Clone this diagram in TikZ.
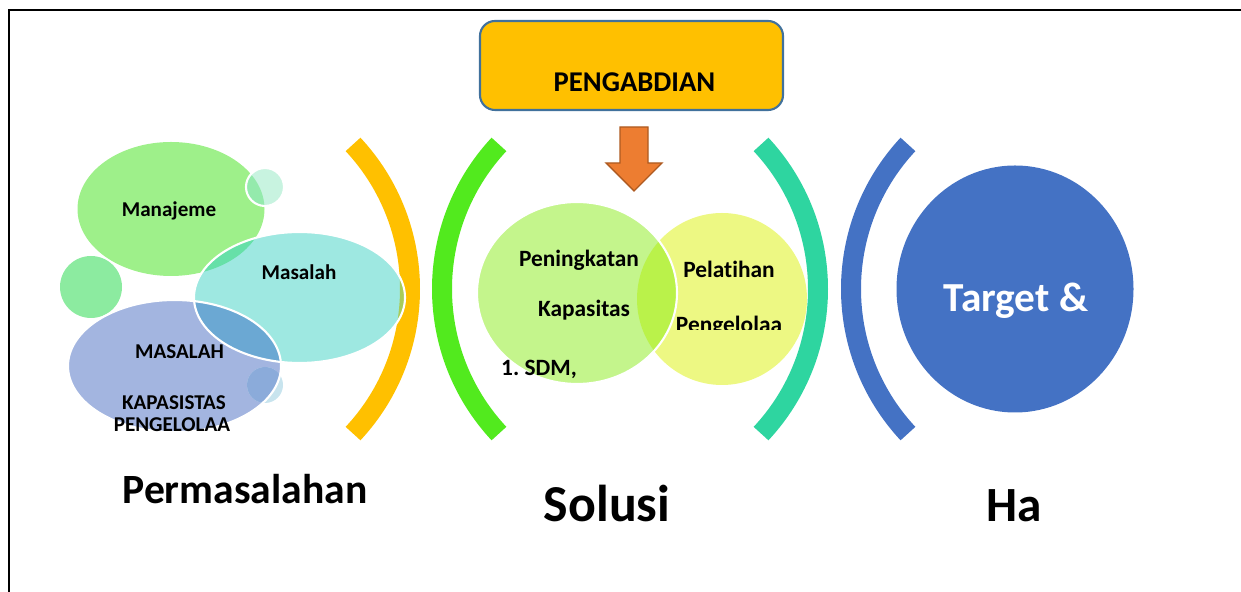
\documentclass[tikz,border=0pt]{standalone}
\usepackage{fontspec}
\setmainfont{Carlito}[Ligatures=NoCommon]
\usetikzlibrary{positioning}
\definecolor{arc-yellow}{HTML}{FFC000}
\definecolor{arc-green}{HTML}{52EA1E}
\definecolor{arc-teal}{HTML}{2ED5A0}
\definecolor{arc-blue}{HTML}{4472C4}
\definecolor{box-fill}{HTML}{FFC000}
\definecolor{box-border}{HTML}{41719C}
\definecolor{arrow-fill}{HTML}{ED7D31}
\definecolor{arrow-border}{HTML}{AE5A21}
\definecolor{cl-green}{HTML}{9EF08A}
\definecolor{cl-mint}{HTML}{C8F3E0}
\definecolor{cl-mint-ov}{HTML}{94EAAC}
\definecolor{cl-left}{HTML}{8CEBA0}
\definecolor{cl-teal}{HTML}{9EE8E1}
\definecolor{cl-teal-ov}{HTML}{66E0A8}
\definecolor{cl-olive}{HTML}{A8CC5A}
\definecolor{cl-blue}{HTML}{A3B5E0}
\definecolor{cl-blue-ov}{HTML}{6BA8D3}
\definecolor{cl-ice}{HTML}{C8E4EE}
\definecolor{cl-ice-ov}{HTML}{8BABDA}
\definecolor{venn-left}{HTML}{C4F58C}
\definecolor{venn-right}{HTML}{EDF883}
\definecolor{venn-ov}{HTML}{BAF24A}

\begin{document}
\begin{tikzpicture}[thick,
    txt/.style={font=\bfseries\fontsize{12}{14}\selectfont, inner sep=0pt, anchor=base},
    venntxt/.style={font=\bfseries\fontsize{13.3}{15}\selectfont, inner sep=0pt, anchor=base},
    bigtxt/.style={font=\bfseries\fontsize{28}{32}\selectfont, inner sep=0pt, anchor=base},
    bracket/.style={line width=0.4cm},
    rim/.style={draw=white, line width=1.2pt}]

    \useasboundingbox (0,0) rectangle (24.82,11.84);
    \draw[line width=1.2pt] (0.18,0) -- (0.18,11.64) -- (24.82,11.64);

    \node[draw=box-border, line width=1.2pt, fill=box-fill, rounded corners=0.3cm, minimum width=6.06cm, minimum height=1.78cm] (pengabdian) at (12.63,10.53) {};
    \node[font=\bfseries\fontsize{16.3}{18}\selectfont, inner sep=0pt, anchor=base] (pengabdiantxt) at (12.69,10.0) {PENGABDIAN};

    \draw[fill=arrow-fill, draw=arrow-border, line width=0.8pt] (12.4,9.3) -- (12.96,9.3) -- (12.96,8.58) -- (13.24,8.58) -- (12.68,8.02) -- (12.12,8.58) -- (12.4,8.58) -- cycle;

    \draw[bracket, arc-yellow] (3.96,6.06) ++(43:4.24) arc[start angle=43, end angle=-43, radius=4.24];
    \draw[bracket, arc-green] (13.08,6.06) ++(137:4.24) arc[start angle=137, end angle=223, radius=4.24];
    \draw[bracket, arc-teal] (12.12,6.06) ++(43:4.24) arc[start angle=43, end angle=-43, radius=4.24];
    \draw[bracket, arc-blue] (21.26,6.06) ++(137:4.24) arc[start angle=137, end angle=223, radius=4.24];

    \fill[cl-green] (3.42,7.66) ellipse [x radius=1.87, y radius=1.34];
    \fill[cl-mint] (5.3,8.1) circle (0.38);
    \begin{scope}
        \clip (3.42,7.66) ellipse [x radius=1.87, y radius=1.34];
        \fill[cl-mint-ov] (5.3,8.1) circle (0.38);
    \end{scope}
    \draw[rim] (5.3,8.1) circle (0.38);
    \fill[cl-left] (1.82,6.1) circle (0.62);

    \fill[cl-blue] (3.49,4.52) ellipse [x radius=2.13, y radius=1.32];
    \fill[cl-ice] (5.3,4.14) circle (0.36);
    \begin{scope}
        \clip (3.49,4.52) ellipse [x radius=2.13, y radius=1.32];
        \fill[cl-ice-ov] (5.3,4.14) circle (0.36);
    \end{scope}

    \fill[cl-teal] (5.99,5.89) ellipse [x radius=2.11, y radius=1.31];
    \begin{scope}
        \clip (5.99,5.89) ellipse [x radius=2.11, y radius=1.31];
        \fill[cl-teal-ov] (3.42,7.66) ellipse [x radius=1.87, y radius=1.34];
        \fill[cl-blue-ov] (3.49,4.52) ellipse [x radius=2.13, y radius=1.32];
        \draw[bracket, cl-olive] (3.96,6.06) ++(43:4.24) arc[start angle=43, end angle=-43, radius=4.24];
    \end{scope}
    \draw[rim] (5.99,5.89) ellipse [x radius=2.11, y radius=1.31];
    \draw[rim] (3.49,4.52) ellipse [x radius=2.13, y radius=1.32];

    \node[txt] (manajeme) at (3.38,7.5) {Manajeme};
    \node[txt] (masalah) at (5.98,6.24) {Masalah};
    \node[txt] (masalahcap) at (3.59,4.66) {MASALAH};
    \node[txt] (kapasistas) at (3.48,3.64) {KAPASISTAS};
    \node[txt] (pengelolaacap) at (3.44,3.2) {PENGELOLAA};

    \fill[venn-right] (14.44,5.86) ellipse [x radius=1.7, y radius=1.72];
    \fill[venn-left] (11.54,5.98) ellipse [x radius=2.0, y radius=1.82];
    \begin{scope}
        \clip (14.44,5.86) ellipse [x radius=1.7, y radius=1.72];
        \fill[venn-ov] (11.54,5.98) ellipse [x radius=2.0, y radius=1.82];
    \end{scope}
    \draw[rim] (11.54,5.98) ellipse [x radius=2.0, y radius=1.82];

    \node[venntxt] (peningkatan) at (11.58,6.5) {Peningkatan};
    \node[venntxt] (kapasitas) at (11.68,5.5) {Kapasitas};
    \node[venntxt] (sdm) at (10.78,4.32) {1.\ SDM,};
    \node[venntxt] (pelatihan) at (14.58,6.28) {Pelatihan};
    \begin{scope}
        \clip (12.5,5.25) rectangle (16.5,6.1);
        \node[venntxt] (pengelolaa) at (14.58,5.18) {Pengelolaa};
    \end{scope}

    \fill[arc-blue] (20.3,6.06) ellipse [x radius=2.37, y radius=2.47];
    \node[txt, white, font=\bfseries\fontsize{23.5}{26}\selectfont] (target) at (20.32,5.6) {Target \&};

    \node[txt, font=\bfseries\fontsize{23.7}{26}\selectfont] (permasalahan) at (4.9,1.76) {Permasalahan};
    \node[bigtxt, font=\bfseries\fontsize{29.5}{32}\selectfont] (solusi) at (12.14,1.4) {Solusi};
    \node[bigtxt] (ha) at (20.28,1.4) {Ha};
\end{tikzpicture}
\end{document}
